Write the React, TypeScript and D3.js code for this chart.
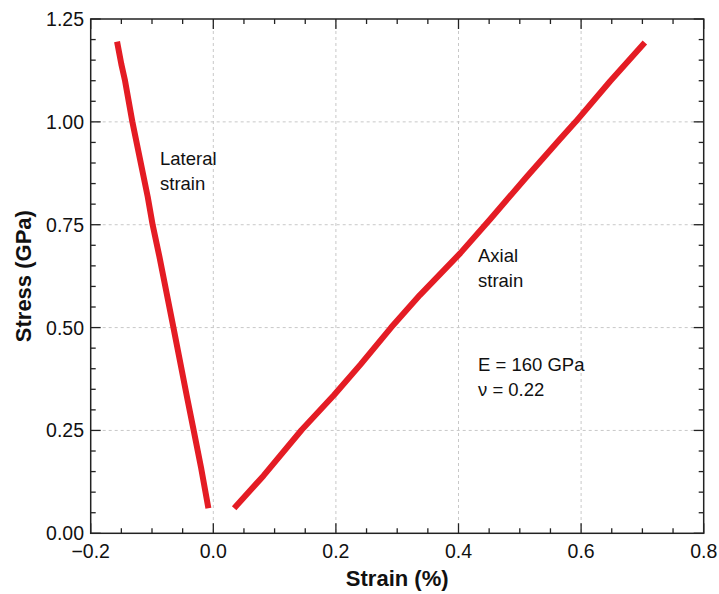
import React from "react";
import * as d3 from "d3";

const lateralStrain: [number, number][] = [
  [-0.157, 1.195], [-0.150, 1.140], [-0.144, 1.100], [-0.132, 1.000], [-0.119, 0.905],
  [-0.107, 0.818], [-0.099, 0.750], [-0.088, 0.673], [-0.065, 0.500], [-0.043, 0.332],
  [-0.032, 0.250], [-0.020, 0.160], [-0.008, 0.061],
];

const axialStrain: [number, number][] = [
  [0.034, 0.061], [0.082, 0.140], [0.144, 0.251], [0.197, 0.336], [0.240, 0.410],
  [0.290, 0.500], [0.337, 0.579], [0.403, 0.681], [0.452, 0.764], [0.511, 0.866],
  [0.565, 0.957], [0.591, 1.000], [0.647, 1.098], [0.704, 1.193],
];

const xMajor = [-0.2, 0.0, 0.2, 0.4, 0.6, 0.8];
const xMajorLabels = ["\u22120.2", "0.0", "0.2", "0.4", "0.6", "0.8"];
const yMajor = [0, 0.25, 0.5, 0.75, 1.0, 1.25];
const yMajorLabels = ["0.00", "0.25", "0.50", "0.75", "1.00", "1.25"];
const xMinor = d3.range(-0.2, 0.8001, 0.05);
const yMinor = d3.range(0, 1.2501, 0.05);

const W = 719, H = 594;
const L = 90.7, R = 703.7, T = 19, B = 533.3;
const FONT = "'Liberation Sans', Arial, Helvetica, sans-serif";
const RED = "#e41c24";

export default function App() {
  const x = d3.scaleLinear().domain([-0.2, 0.8]).range([L, R]);
  const y = d3.scaleLinear().domain([0, 1.25]).range([B, T]);
  const line = d3.line<[number, number]>().x(d => x(d[0])).y(d => y(d[1]));
  const isMajor = (v: number, arr: number[]) => arr.some(m => Math.abs(m - v) < 1e-6);
  const axisColor = "#222";

  return (
    <svg width={W} height={H} style={{ position: "absolute", left: 0, top: 0, background: "#fff" }}
      fontFamily={FONT}>
      {xMajor.slice(1, -1).map((v, i) => (
        <line key={"gx" + i} x1={x(v)} x2={x(v)} y1={T} y2={B} stroke="#c8c8c8" strokeWidth={1} strokeDasharray="3,3" />
      ))}
      {yMajor.slice(1, -1).map((v, i) => (
        <line key={"gy" + i} x1={L} x2={R} y1={y(v)} y2={y(v)} stroke="#c8c8c8" strokeWidth={1} strokeDasharray="3,3" />
      ))}
      {xMinor.map((v, i) => {
        const len = isMajor(v, xMajor) ? 10 : 5;
        return (
          <g key={"tx" + i} stroke={axisColor} strokeWidth={1.3}>
            <line x1={x(v)} x2={x(v)} y1={B} y2={B - len} />
            <line x1={x(v)} x2={x(v)} y1={T} y2={T + len} />
          </g>
        );
      })}
      {yMinor.map((v, i) => {
        const len = isMajor(v, yMajor) ? 10 : 5;
        return (
          <g key={"ty" + i} stroke={axisColor} strokeWidth={1.3}>
            <line x1={L} x2={L + len} y1={y(v)} y2={y(v)} />
            <line x1={R} x2={R - len} y1={y(v)} y2={y(v)} />
          </g>
        );
      })}
      <rect x={L} y={T} width={R - L} height={B - T} fill="none" stroke={axisColor} strokeWidth={1.5} />
      {xMajor.map((v, i) => (
        <text key={"lx" + i} x={x(v)} y={558} textAnchor="middle" fontSize={19.5} fill="#111">{xMajorLabels[i]}</text>
      ))}
      {yMajor.map((v, i) => (
        <text key={"ly" + i} x={84} y={y(v) + 7} textAnchor="end" fontSize={19.5} fill="#111">{yMajorLabels[i]}</text>
      ))}
      <text x={(L + R) / 2} y={586} textAnchor="middle" fontSize={22} fontWeight="bold" fill="#111">Strain (%)</text>
      <text transform={`translate(31,${(T + B) / 2}) rotate(-90)`} textAnchor="middle" fontSize={22} fontWeight="bold" fill="#111">Stress (GPa)</text>
      <path d={line(lateralStrain) || ""} fill="none" stroke={RED} strokeWidth={6} strokeLinejoin="round" />
      <path d={line(axialStrain) || ""} fill="none" stroke={RED} strokeWidth={6} strokeLinejoin="round" />
      <g fontSize={18.5} fill="#111">
        <text x={160} y={165}>Lateral</text>
        <text x={160} y={190}>strain</text>
        <text x={478} y={261.5}>Axial</text>
        <text x={478} y={286.5}>strain</text>
        <text x={478} y={370.5}>E = 160 GPa</text>
        <text x={478} y={395.5}>{"\u03bd = 0.22"}</text>
      </g>
    </svg>
  );
}
